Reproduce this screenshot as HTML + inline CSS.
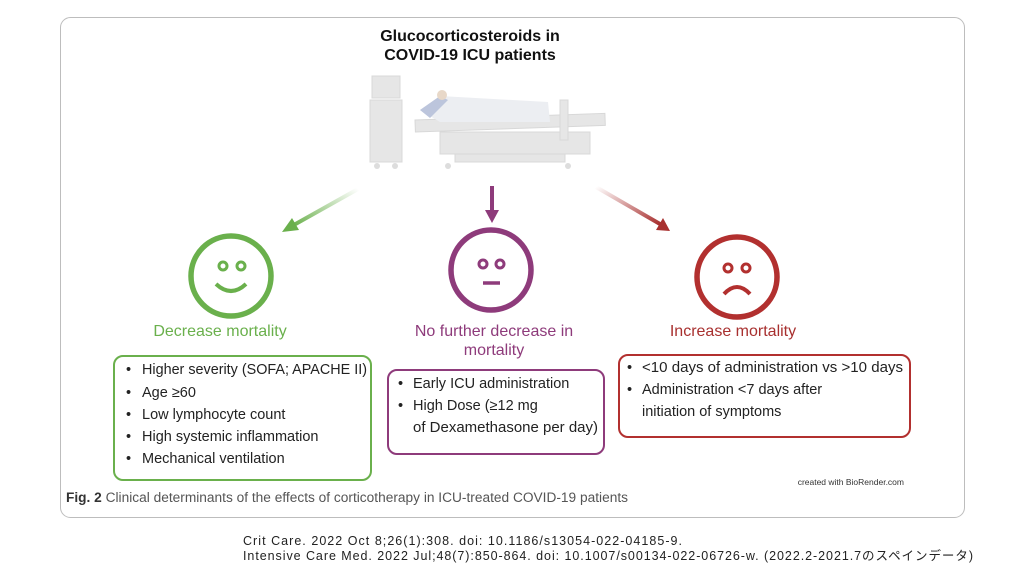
<!DOCTYPE html>
<html><head><meta charset="utf-8"><style>
body{margin:0;width:1024px;height:576px;background:#fff;overflow:hidden;font-family:"Liberation Sans","Noto Sans CJK JP",sans-serif}
svg text{font-family:"Liberation Sans","Noto Sans CJK JP",sans-serif}
</style></head><body>
<svg width="1024" height="576" viewBox="0 0 1024 576">
<rect x="60.5" y="17.5" width="904" height="500" rx="10" fill="#fff" stroke="#bdbdbd" stroke-width="1"/>
<text x="470" y="41" font-size="16" font-weight="bold" text-anchor="middle" fill="#111">Glucocorticosteroids in</text>
<text x="470" y="60" font-size="16" font-weight="bold" text-anchor="middle" fill="#111">COVID-19 ICU patients</text>
<g fill="#e6e6e6" stroke="#d8d8d8">
<rect x="372" y="76" width="28" height="22"/>
<rect x="370" y="100" width="32" height="62"/>
<rect x="415" y="120" width="190" height="12" transform="rotate(-2 415 120)"/>
<rect x="440" y="132" width="150" height="22"/>
<rect x="560" y="100" width="8" height="40"/>
<rect x="455" y="154" width="110" height="8"/>
</g>
<path d="M420 110 L440 96 L548 102 L550 122 L440 122Z" fill="#eceef2"/>
<path d="M420 110 L440 96 L448 100 L430 118Z" fill="#bcc5dc"/>
<circle cx="442" cy="95" r="5" fill="#e8d8c8"/>
<circle cx="377" cy="166" r="3" fill="#ddd"/><circle cx="395" cy="166" r="3" fill="#ddd"/>
<circle cx="448" cy="166" r="3" fill="#ddd"/><circle cx="568" cy="166" r="3" fill="#ddd"/>
<defs>
<linearGradient id="gg" x1="1" y1="0" x2="0" y2="1"><stop offset="0" stop-color="#fff"/><stop offset="1" stop-color="#6ab04c"/></linearGradient>
<linearGradient id="rg" x1="0" y1="0" x2="1" y2="1"><stop offset="0" stop-color="#fff"/><stop offset="1" stop-color="#a8302f"/></linearGradient>
</defs>
<line x1="358" y1="189" x2="292" y2="226" stroke="url(#gg)" stroke-width="4"/>
<polygon points="282,232 292,218 299,230" fill="#6ab04c"/>
<line x1="492" y1="186" x2="492" y2="212" stroke="#8e3b7b" stroke-width="4"/>
<polygon points="485,210 499,210 492,223" fill="#8e3b7b"/>
<line x1="596" y1="187" x2="660" y2="224" stroke="url(#rg)" stroke-width="4"/>
<polygon points="670,231 656,230 663,218" fill="#a8302f"/>
<g fill="none" stroke-width="5.5">
<circle cx="231" cy="276" r="40" stroke="#6ab04c"/>
<circle cx="223" cy="266" r="4" stroke="#6ab04c" stroke-width="3"/><circle cx="241" cy="266" r="4" stroke="#6ab04c" stroke-width="3"/>
<path d="M216 284 Q231 298 246 284" stroke="#6ab04c" stroke-width="4"/>
<circle cx="491" cy="270" r="40" stroke="#8e3b7b"/>
<circle cx="483" cy="264" r="4" stroke="#8e3b7b" stroke-width="3"/><circle cx="500" cy="264" r="4" stroke="#8e3b7b" stroke-width="3"/>
<line x1="483" y1="283" x2="500" y2="283" stroke="#8e3b7b" stroke-width="3.5"/>
<circle cx="737" cy="277" r="40" stroke="#b2302f"/>
<circle cx="728" cy="268" r="4" stroke="#b2302f" stroke-width="3"/><circle cx="746" cy="268" r="4" stroke="#b2302f" stroke-width="3"/>
<path d="M724 294 Q737 280 750 294" stroke="#b2302f" stroke-width="4"/>
</g>
<text x="220" y="336" font-size="16" text-anchor="middle" fill="#6ab04c">Decrease mortality</text>
<text x="494" y="336" font-size="16" text-anchor="middle" fill="#8e3b7b">No further decrease in</text>
<text x="494" y="355" font-size="16" text-anchor="middle" fill="#8e3b7b">mortality</text>
<text x="733" y="336" font-size="16" text-anchor="middle" fill="#a8302f">Increase mortality</text>
<rect x="114" y="356" width="257" height="124" rx="9" fill="none" stroke="#6ab04c" stroke-width="2"/>
<rect x="388" y="370" width="216" height="84" rx="9" fill="none" stroke="#8e3b7b" stroke-width="2"/>
<rect x="619" y="355" width="291" height="82" rx="9" fill="none" stroke="#b2302f" stroke-width="2"/>
<g font-size="14.5" fill="#222">
<text x="126" y="374">•</text><text x="142" y="374" textLength="225" lengthAdjust="spacingAndGlyphs">Higher severity (SOFA; APACHE II)</text>
<text x="126" y="397">•</text><text x="142" y="397">Age ≥60</text>
<text x="126" y="419">•</text><text x="142" y="419">Low lymphocyte count</text>
<text x="126" y="441">•</text><text x="142" y="441">High systemic inflammation</text>
<text x="126" y="463">•</text><text x="142" y="463">Mechanical ventilation</text>
<text x="398" y="388">•</text><text x="413" y="388">Early ICU administration</text>
<text x="398" y="410">•</text><text x="413" y="410">High Dose (≥12 mg</text>
<text x="413" y="432" textLength="185" lengthAdjust="spacingAndGlyphs">of Dexamethasone per day)</text>
<text x="627" y="372">•</text><text x="642" y="372" textLength="261" lengthAdjust="spacingAndGlyphs">&lt;10 days of administration vs &gt;10 days</text>
<text x="627" y="394">•</text><text x="642" y="394">Administration &lt;7 days after</text>
<text x="642" y="416">initiation of symptoms</text>
</g>
<text x="904" y="485" font-size="8.5" text-anchor="end" fill="#333" font-family="Liberation Serif">created with BioRender.com</text>
<text x="66" y="502" font-size="13.5" fill="#555" textLength="562" lengthAdjust="spacingAndGlyphs"><tspan font-weight="bold" fill="#333">Fig. 2</tspan>  Clinical determinants of the effects of corticotherapy in ICU-treated COVID-19 patients</text>
<text x="243" y="545" font-size="12.5" fill="#222" textLength="439" lengthAdjust="spacing">Crit Care. 2022 Oct 8;26(1):308. doi: 10.1186/s13054-022-04185-9.</text>
<text x="243" y="560" font-size="12.5" fill="#222" textLength="730" lengthAdjust="spacing">Intensive Care Med. 2022 Jul;48(7):850-864. doi: 10.1007/s00134-022-06726-w. (2022.2-2021.7のスペインデータ)</text>
</svg>
</body></html>
